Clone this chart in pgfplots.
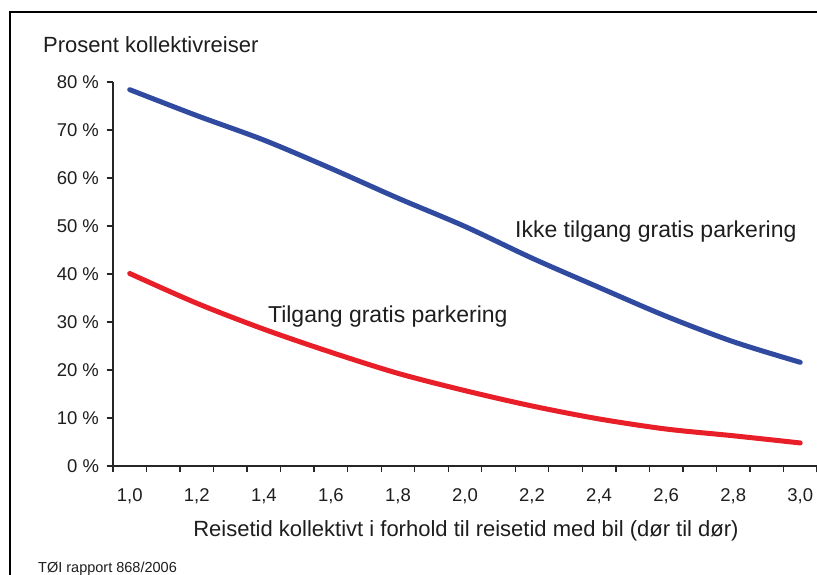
\documentclass[border=0pt]{standalone}
\usepackage{fontspec}
\setmainfont{Liberation Sans}
\setsansfont{Liberation Sans}
\usepackage{pgfplots}
\pgfplotsset{compat=1.18}
\definecolor{blueline}{RGB}{48,74,160}
\definecolor{redline}{RGB}{232,30,40}
\definecolor{txt}{RGB}{30,30,30}
\pgfplotstableread{
x y
1.0 78.4
1.2 73.0
1.4 67.9
1.6 62.0
1.8 55.8
2.0 49.9
2.2 43.3
2.4 37.2
2.6 31.2
2.8 25.9
3.0 21.6
}\blueData
\pgfplotstableread{
x y
1.0 40.1
1.2 33.9
1.4 28.5
1.6 23.7
1.8 19.3
2.0 15.7
2.2 12.5
2.4 9.8
2.6 7.7
2.8 6.3
3.0 4.8
}\redData
\begin{document}
\begin{tikzpicture}[x=1pt,y=1pt]
\useasboundingbox (0,0) rectangle (817,575);
\fill[white] (0,0) rectangle (817,575);
\draw[line width=2.6pt,black] (10,-5) -- (10,563) -- (830,563);
\begin{axis}[
  at={(113pt,109pt)}, anchor=south west,
  scale only axis, width=704pt, height=384pt,
  xmin=0.95, xmax=3.05, ymin=0, ymax=80,
  axis x line=bottom, axis y line=left,
  x axis line style={-}, y axis line style={-},
  axis line style={line width=1.3pt, color=black!85},
  tick style={line width=1.3pt, color=black!85},
  tick align=outside, major tick length=6.5pt,
  xtick={0.95,1.05,1.15,1.25,1.35,1.45,1.55,1.65,1.75,1.85,1.95,2.05,2.15,2.25,2.35,2.45,2.55,2.65,2.75,2.85,2.95,3.05},
  xticklabel=\empty,
  extra x ticks={1.0,1.2,1.4,1.6,1.8,2.0,2.2,2.4,2.6,2.8,3.0},
  extra x tick labels={{1,0},{1,2},{1,4},{1,6},{1,8},{2,0},{2,2},{2,4},{2,6},{2,8},{3,0}},
  extra x tick style={major tick length=0pt, xticklabel style={anchor=base, yshift=-36pt}},
  ytick={0,10,20,30,40,50,60,70,80},
  yticklabels={0 \%,10 \%,20 \%,30 \%,40 \%,50 \%,60 \%,70 \%,80 \%},
  yticklabel style={anchor=east, xshift=-4pt},
  tick label style={font=\fontsize{18.5}{21}\selectfont, text=txt},
  clip=false,
]
\addplot[blueline, line width=5pt, smooth, line cap=round] table[x=x,y=y] {\blueData};
\addplot[redline, line width=5pt, smooth, line cap=round] table[x=x,y=y] {\redData};
\node[anchor=base west, text=txt, font=\fontsize{23}{26}\selectfont, inner sep=0pt] at (axis cs:2.149,47.7) {Ikke tilgang gratis parkering};
\node[anchor=base west, text=txt, font=\fontsize{23}{26}\selectfont, inner sep=0pt] at (axis cs:1.412,29.8) {Tilgang gratis parkering};
\end{axis}
\node[anchor=base west, text=txt, font=\fontsize{22}{26}\selectfont, inner sep=0pt] at (43,522) {Prosent kollektivreiser};
\node[anchor=base, text=txt, font=\fontsize{22}{26}\selectfont, inner sep=0pt] at (466,38) {Reisetid kollektivt i forhold til reisetid med bil (dør til dør)};
\node[anchor=base west, text=txt, font=\fontsize{14.5}{16}\selectfont, inner sep=0pt] at (38,2) {TØI rapport 868/2006};
\end{tikzpicture}
\end{document}
